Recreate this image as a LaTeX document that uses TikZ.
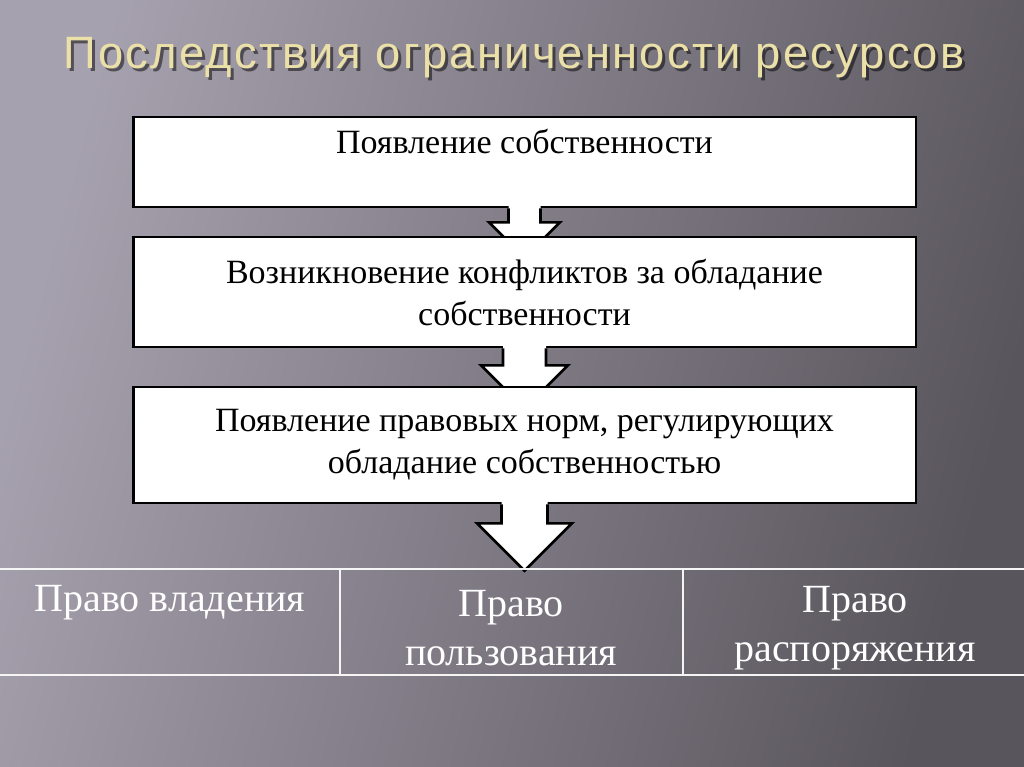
\documentclass[tikz,border=0pt]{standalone}
\usepackage{fontspec}
\setmainfont{Liberation Serif}
\newfontfamily\titlefont[LetterSpace=5]{Liberation Sans}
\usetikzlibrary{calc}

\definecolor{bgleft}{HTML}{A6A1AE}
\definecolor{bgmid}{HTML}{7A767F}
\definecolor{bgright}{HTML}{59555C}
\definecolor{titlegold}{HTML}{EAE0A8}

\tikzset{
  stagebox/.style={draw=black, line width=2pt, fill=white, minimum width=587pt,
    align=center, font=\fontsize{25.5}{31.5}\selectfont},
  cell/.style={text=white, align=center, font=\fontsize{30}{37}\selectfont},
  gridline/.style={draw=white!92!gray, line width=1.1pt},
  arrowline/.style={draw=black, line width=2pt, line join=miter},
}

% block arrow below a box: node, shaft half width, head half width, shoulder drop
\newcommand{\blockarrow}[4]{%
  \fill[white] ($(#1.south)+(-#2,-3)$) -- ++(0,#4+3) -- ++(#2-#3,0) -- ++(#3,#3)
    -- ++(#3,-#3) -- ++(#2-#3,0) -- ++(0,-#4-3) -- cycle;
  \draw[arrowline] ($(#1.south)+(-#2,0)$) -- ++(0,#4) -- ++(#2-#3,0) -- ++(#3,#3)
    -- ++(#3,-#3) -- ++(#2-#3,0) -- ++(0,-#4);
}

\begin{document}
\begin{tikzpicture}[x=0.75pt, y=-0.75pt]
  \useasboundingbox (0,0) rectangle (1024,767);
  \shade[top color=bgleft, middle color=bgmid, bottom color=bgright, shading angle=75]
    (0,0) rectangle (1024,767);

  % title
  \node[text=black, opacity=0.5, font=\titlefont\fontsize{34}{40}\selectfont] (titleshadow) at (517,61)
    {Последствия ограниченности ресурсов};
  \node[text=titlegold, font=\titlefont\fontsize{34}{40}\selectfont] (title) at (514,58)
    {Последствия ограниченности ресурсов};

  % chain of consequences
  \node[stagebox, minimum height=67.5pt] (cons1) at (524.5,162)
    {Появление собственности\\ \mbox{}};
  \blockarrow{cons1}{16}{35.5}{14}
  \node[stagebox, minimum height=82.5pt] (cons2) at (524.5,292)
    {Возникновение конфликтов за обладание\\ собственности};
  \blockarrow{cons2}{21.5}{43.5}{17}
  \node[stagebox, minimum height=87pt] (cons3) at (524.5,445)
    {Появление правовых норм, регулирующих\\ обладание собственностью};
  \blockarrow{cons3}{23}{47.5}{19}

  % table of rights
  \draw[gridline] (0,569) -- (1024,569);
  \draw[gridline] (0,675) -- (1024,675);
  \draw[gridline] (340,569) -- (340,675);
  \draw[gridline] (683,569) -- (683,675);

  \node[cell] (own) at (170,603) {Право владения};
  \node[cell] (use) at (511,628) {Право\\ пользования};
  \node[cell] (dispose) at (855,628) {Право\\ распоряжения};
\end{tikzpicture}
\end{document}
